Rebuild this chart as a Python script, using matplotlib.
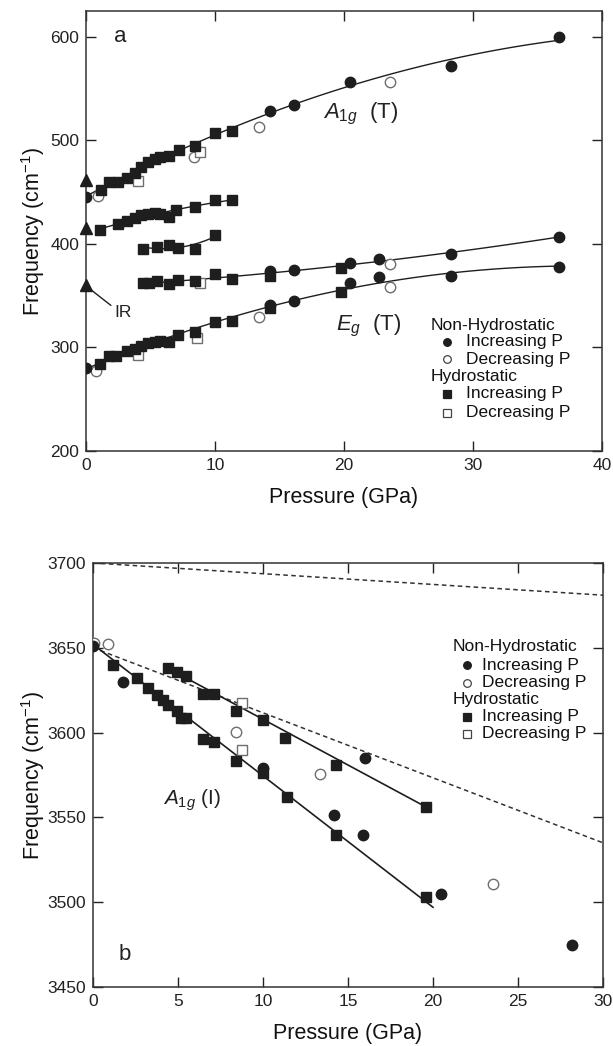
import numpy as np
import matplotlib
matplotlib.use('Agg')
import matplotlib.pyplot as plt

plt.rcParams['font.family'] = ['Liberation Sans', 'DejaVu Sans']
plt.rcParams['mathtext.fontset'] = 'custom'
plt.rcParams['mathtext.rm'] = 'Liberation Sans'
plt.rcParams['mathtext.it'] = 'Liberation Sans:italic'

# ---- panel a : low frequency modes (P in GPa, freq in cm-1) ----
# A1g (T) branch
a1_circ = [(0, 445), (14.3, 528), (16.1, 534.5), (20.5, 556), (28.3, 572), (36.7, 599.5)]
a1_ocirc = [(0.9, 446), (8.4, 484), (13.4, 512.5), (23.6, 556)]
a1_sq = [(1.15, 452), (1.75, 459.5), (2.5, 460), (3.15, 464), (3.8, 469), (4.3, 474),
         (4.8, 479), (5.35, 482), (5.7, 484), (6.4, 485), (7.2, 491), (8.45, 495),
         (10.0, 507), (11.3, 509)]
a1_osq = [(4.05, 461), (8.8, 488.5)]
# second branch
b2_sq = [(1.1, 413), (2.5, 419), (3.15, 422.5), (3.8, 425.5), (4.3, 427.5), (4.8, 429),
         (5.35, 429.5), (5.7, 429), (6.4, 426), (7.0, 433), (8.45, 435.5), (10.0, 442.5),
         (11.3, 442)]
# third branch
b3_sq = [(4.45, 395), (5.5, 397), (6.4, 399), (7.1, 396), (8.45, 395.5), (10.0, 409)]
# fourth branch
b4_sq = [(4.45, 362), (4.9, 362), (5.5, 364), (6.4, 361), (7.1, 365), (8.45, 364),
         (10.0, 371), (11.3, 366.5), (14.3, 369), (19.8, 377)]
b4_osq = [(8.8, 362)]
b4_circ = [(14.3, 374), (16.1, 374.5), (20.5, 381.5), (22.7, 385), (28.3, 390.5), (36.7, 407)]
b4_ocirc = [(23.6, 381)]
# Eg (T) branch
eg_circ = [(0, 280), (14.3, 341.5), (16.1, 345), (20.5, 362.5), (22.7, 368),
           (28.3, 369.5), (36.7, 377.5)]
eg_ocirc = [(0.8, 277), (13.4, 329), (23.6, 358)]
eg_sq = [(1.1, 284.5), (1.75, 291.5), (2.3, 291.5), (3.15, 296.5), (3.8, 299), (4.3, 301),
         (4.8, 304), (5.35, 305), (5.7, 306), (6.4, 305), (7.1, 312), (8.45, 315),
         (10.0, 324.5), (11.3, 326), (14.3, 338), (19.8, 353.5)]
eg_osq = [(4.05, 292.5), (8.6, 309.5)]
# triangles at P = 0 (IR)
tri_f = [462, 415, 360]

# ---- panel b : A1g (I) OH stretching ----
oh_circ = [(0, 3651), (1.75, 3630), (10.0, 3579), (14.2, 3551.5), (15.9, 3539.5),
           (16.0, 3585), (20.45, 3505), (28.2, 3475)]
oh_ocirc = [(0.05, 3653), (0.9, 3652), (8.4, 3600.5), (13.35, 3575.5), (23.5, 3510.5)]
oh_osq = [(8.75, 3617.5), (8.75, 3590)]
oh_sq_lo = [(1.15, 3640), (2.57, 3632), (3.25, 3626), (3.75, 3622), (4.14, 3619),
            (4.43, 3616.5), (4.92, 3612.5), (5.2, 3608.5), (5.5, 3608.5), (6.45, 3596.5),
            (7.1, 3594.5), (8.4, 3583), (10.0, 3576), (11.4, 3562), (14.3, 3539.5),
            (19.6, 3503)]
oh_sq_hi = [(4.43, 3638), (4.96, 3635.5), (5.5, 3633.5), (6.45, 3622.5), (7.1, 3623),
            (8.4, 3612.5), (10.0, 3607.5), (11.3, 3597), (14.3, 3581), (19.6, 3556)]
# fit lines
fit_lo_p, fit_lo_f = [0, 20], [3652, 3497]
fit_hi_p, fit_hi_f = [4.4, 19.8], [3638, 3555]
dash_hi_p, dash_hi_f = [0, 30], [3700, 3681]
dash_lo_p, dash_lo_f = [0, 30], [3650, 3535]

dark = '#1e1e1e'
grey = '#6e6e6e'
ms = 7.5


def pts(ax, data, marker, filled, size=ms):
    d = np.array(data)
    if filled:
        ax.plot(d[:, 0], d[:, 1], marker, ms=size, color=dark, mec=dark, ls='none', zorder=4)
    else:
        ax.plot(d[:, 0], d[:, 1], marker, ms=size, mfc='white', mec=grey, mew=1.0,
                ls='none', zorder=3)


def fit(ax, data, deg=2):
    # smooth curve through the increasing-P points
    d = np.array(data)
    c = np.polyfit(d[:, 0], d[:, 1], deg)
    x = np.linspace(d[:, 0].min(), d[:, 0].max(), 100)
    ax.plot(x, np.polyval(c, x), color=dark, lw=1.0, zorder=2)


def style(ax):
    for s in ax.spines.values():
        s.set_color('#333333')
        s.set_linewidth(1.1)
    ax.tick_params(direction='in', length=7, width=1, top=True, right=True,
                   labeltop=False, labelright=False, labelsize=12.5, colors='#222222',
                   pad=5)


def legend(ax, x0, xm, xt, rows):
    labels = ['Non-Hydrostatic', 'Increasing P', 'Decreasing P',
              'Hydrostatic', 'Increasing P', 'Decreasing P']
    marks = [None, ('o', True), ('o', False), None, ('s', True), ('s', False)]
    for lab, mk, y in zip(labels, marks, rows):
        if mk is None:
            ax.text(x0, y, lab, transform=ax.transAxes, fontsize=12.5, va='center',
                    color='#111111')
        else:
            m, f = mk
            ax.plot([xm], [y], m, ms=5.5, transform=ax.transAxes,
                    color=dark if f else 'white', mec=dark if f else '#444444',
                    mew=0.9, clip_on=False)
            ax.text(xt, y, lab, transform=ax.transAxes, fontsize=12.5, va='center',
                    color='#111111')


fig = plt.figure(figsize=(6.13, 10.46), dpi=100)

# ---------------- panel a ----------------
ax = fig.add_axes([0.1403, 0.5688, 0.8417, 0.4207])
fit(ax, a1_circ + a1_sq)
fit(ax, b2_sq)
fit(ax, b3_sq)
fit(ax, b4_sq + b4_circ)
fit(ax, eg_circ + eg_sq)
for grp in (a1_ocirc, b4_ocirc, eg_ocirc):
    pts(ax, grp, 'o', False)
for grp in (a1_osq, b4_osq, eg_osq):
    pts(ax, grp, 's', False)
for grp in (a1_sq, b2_sq, b3_sq, b4_sq, eg_sq):
    pts(ax, grp, 's', True)
for grp in (a1_circ, b4_circ, eg_circ):
    pts(ax, grp, 'o', True)
ax.plot(np.zeros(len(tri_f)), tri_f, '^', ms=8, color=dark, ls='none', clip_on=False,
        zorder=5)
ax.annotate('', xy=(0.15, 358), xytext=(2.1, 339),
            arrowprops=dict(arrowstyle='-', color=dark, lw=1.0))
ax.text(2.2, 334, 'IR', fontsize=12.5, va='center', color='#222222')
ax.text(2.2, 600, 'a', fontsize=16, va='center', color='#222222')
ax.text(18.4, 526, r'$A_{1g}$  (T)', fontsize=16, va='center', color='#222222')
ax.text(19.4, 321, r'$E_{g}$  (T)', fontsize=16, va='center', color='#222222')
legend(ax, 0.667, 0.700, 0.736, [0.286, 0.248, 0.209, 0.169, 0.130, 0.087])
ax.set_xlim(0, 40)
ax.set_ylim(200, 625)
ax.set_xticks([0, 10, 20, 30, 40])
ax.set_yticks([200, 300, 400, 500, 600])
style(ax)
ax.set_xlabel('Pressure (GPa)', fontsize=15.5, labelpad=10, color='#111111')
ax.set_ylabel('Frequency (cm$^{-1}$)', fontsize=15.5, labelpad=2, color='#111111')

# ---------------- panel b ----------------
bx = fig.add_axes([0.1517, 0.0564, 0.832, 0.4054])
bx.plot(dash_hi_p, dash_hi_f, '--', color='#333333', lw=1.1, dashes=(3, 2.2), zorder=2)
bx.plot(dash_lo_p, dash_lo_f, '--', color='#333333', lw=1.1, dashes=(3, 2.2), zorder=2)
bx.plot(fit_lo_p, fit_lo_f, color=dark, lw=1.2, zorder=2)
bx.plot(fit_hi_p, fit_hi_f, color=dark, lw=1.2, zorder=2)
pts(bx, oh_ocirc, 'o', False)
pts(bx, oh_osq, 's', False)
pts(bx, oh_sq_lo, 's', True)
pts(bx, oh_sq_hi, 's', True)
pts(bx, oh_circ, 'o', True)
bx.text(1.5, 3469, 'b', fontsize=16, va='center', color='#222222')
bx.text(4.1, 3560, r'$A_{1g}$ (I)', fontsize=15, va='center', color='#222222')
legend(bx, 0.706, 0.733, 0.763, [0.802, 0.759, 0.717, 0.677, 0.637, 0.597])
bx.set_xlim(0, 30)
bx.set_ylim(3450, 3700)
bx.set_xticks([0, 5, 10, 15, 20, 25, 30])
bx.set_yticks([3450, 3500, 3550, 3600, 3650, 3700])
style(bx)
bx.set_xlabel('Pressure (GPa)', fontsize=15.5, labelpad=10, color='#111111')
bx.set_ylabel('Frequency (cm$^{-1}$)', fontsize=15.5, labelpad=0, color='#111111')

fig.savefig('out.png', dpi=100)
plt.close(fig)
